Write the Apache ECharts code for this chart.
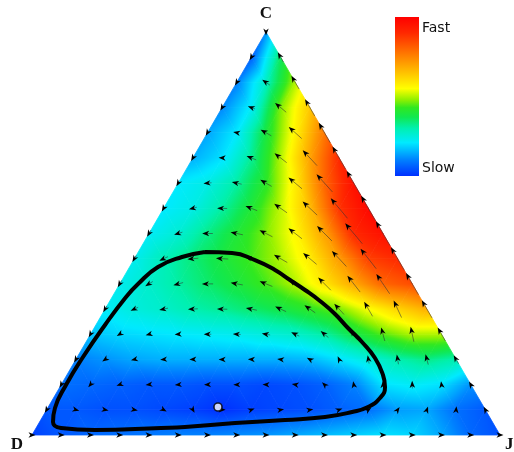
<!DOCTYPE html>
<html><head><meta charset="utf-8">
<script src="https://cdn.jsdelivr.net/npm/echarts@6/dist/echarts.min.js"></script>
<style>html,body{margin:0;padding:0;background:#fff}#chart{width:514px;height:452px}</style>
</head><body><div id="chart"></div>
<script>
// ---- data ----
const N = 16; // simplex grid subdivisions
const vertexLabels = ['C', 'D', 'J'];
const colorbarLabels = ['Fast', 'Slow'];
// speed (0 = slow, 1 = fast) at grid row k (c = k/N), point i (j = i/N)
const speedRow0  = [0.02, 0.05, 0.07, 0.08, 0.09, 0.1, 0.1, 0.11, 0.12, 0.14, 0.16, 0.18, 0.2, 0.19, 0.14, 0.07, 0.04];
const speedRow1  = [0.05, 0.05, 0.04, 0.04, 0.03, 0.02, 0.0, 0.02, 0.03, 0.04, 0.06, 0.08, 0.13, 0.14, 0.08, 0.05];
const speedRow2  = [0.08, 0.07, 0.06, 0.05, 0.05, 0.04, 0.04, 0.03, 0.04, 0.06, 0.1, 0.2, 0.22, 0.2, 0.12];
const speedRow3  = [0.1, 0.12, 0.14, 0.15, 0.15, 0.15, 0.15, 0.15, 0.16, 0.2, 0.25, 0.3, 0.33, 0.3];
const speedRow4  = [0.17, 0.19, 0.2, 0.21, 0.22, 0.23, 0.25, 0.27, 0.31, 0.38, 0.45, 0.5, 0.5];
const speedRow5  = [0.22, 0.25, 0.27, 0.3, 0.32, 0.35, 0.38, 0.42, 0.47, 0.55, 0.62, 0.68];
const speedRow6  = [0.23, 0.27, 0.31, 0.35, 0.39, 0.44, 0.5, 0.59, 0.69, 0.8, 0.84];
const speedRow7  = [0.23, 0.29, 0.34, 0.39, 0.44, 0.5, 0.58, 0.71, 0.86, 0.9];
const speedRow8  = [0.22, 0.26, 0.33, 0.4, 0.47, 0.56, 0.7, 0.9, 0.96];
const speedRow9  = [0.21, 0.24, 0.31, 0.4, 0.51, 0.66, 0.88, 0.98];
const speedRow10 = [0.21, 0.24, 0.31, 0.42, 0.58, 0.8, 0.96];
const speedRow11 = [0.15, 0.2, 0.32, 0.5, 0.7, 0.9];
const speedRow12 = [0.14, 0.21, 0.39, 0.57, 0.77];
const speedRow13 = [0.11, 0.22, 0.47, 0.64];
const speedRow14 = [0.1, 0.28, 0.5];
const speedRow15 = [0.06, 0.36];
const speedRow16 = [0.12];
const speedRows = [speedRow0, speedRow1, speedRow2, speedRow3, speedRow4, speedRow5, speedRow6, speedRow7,
  speedRow8, speedRow9, speedRow10, speedRow11, speedRow12, speedRow13, speedRow14, speedRow15, speedRow16];
// arrow direction (degrees, counter-clockwise from east) at the same grid points
const angleRow0  = [0, 0, 0, 0, 0, 0, 0, 0, 0, 0, 0, 0, 0, 0, 0, 0, 0];
const angleRow1  = [240, -15, -10, -10, -30, -60, 0, 20, 10, 10, 20, 35, 55, 70, 85, 120];
const angleRow2  = [240, 230, 200, 188, 185, 183, 180, 178, 170, 135, 100, 92, 92, 98, 120];
const angleRow3  = [240, 215, 195, 185, 182, 180, 178, 172, 150, 115, 100, 100, 105, 120];
const angleRow4  = [240, 212, 195, 185, 180, 177, 170, 155, 140, 120, 105, 102, 120];
const angleRow5  = [240, 205, 192, 183, 178, 168, 155, 145, 132, 120, 115, 120];
const angleRow6  = [240, 212, 195, 180, 170, 158, 145, 135, 128, 124, 120];
const angleRow7  = [240, 205, 185, 177, 165, 150, 140, 133, 128, 120];
const angleRow8  = [240, 198, 180, 168, 153, 142, 135, 130, 120];
const angleRow9  = [240, 195, 178, 158, 145, 137, 130, 120];
const angleRow10 = [240, 185, 168, 150, 140, 132, 120];
const angleRow11 = [240, 178, 158, 142, 133, 120];
const angleRow12 = [240, 170, 150, 138, 120];
const angleRow13 = [240, 160, 140, 120];
const angleRow14 = [240, 145, 120];
const angleRow15 = [240, 120];
const angleRow16 = [270];
const angleRows = [angleRow0, angleRow1, angleRow2, angleRow3, angleRow4, angleRow5, angleRow6, angleRow7,
  angleRow8, angleRow9, angleRow10, angleRow11, angleRow12, angleRow13, angleRow14, angleRow15, angleRow16];
// closed orbit (plot coordinates: x along D->J, y = share of C)
const orbitX = [0.3697, 0.4274, 0.4765, 0.5192, 0.5513, 0.5833, 0.6154, 0.6474, 0.6752, 0.7051, 0.7329, 0.75, 0.7543,
  0.7436, 0.7179, 0.6838, 0.6261, 0.5406, 0.4338, 0.3269, 0.2756, 0.1346, 0.062, 0.0449, 0.0491, 0.0726, 0.109,
  0.156, 0.2009, 0.2265, 0.2692, 0.3205, 0.3697];
const orbitY = [0.4541, 0.4516, 0.4342, 0.4094, 0.3846, 0.3598, 0.3325, 0.3002, 0.2655, 0.2308, 0.1911, 0.1489, 0.1191,
  0.0918, 0.0695, 0.0571, 0.0447, 0.0372, 0.0298, 0.0199, 0.0174, 0.0124, 0.0174, 0.0323, 0.067, 0.1241, 0.1935,
  0.273, 0.3424, 0.3747, 0.4169, 0.4417, 0.4541];
const fixedPointX = [0.3974];
const fixedPointY = [0.0695];

// ---- styling / helpers ----
const cmapStops = [[0, '#0030ff'], [0.1, '#0080ff'], [0.21, '#00eaff'], [0.3, '#00f0b0'], [0.37, '#10e850'],
  [0.43, '#30e820'], [0.48, '#90f000'], [0.55, '#ffff00'], [0.73, '#ff9000'], [0.9, '#ff2800'], [1, '#ff0000']];
const cm = cmapStops.map(s => [s[0], [parseInt(s[1].slice(1, 3), 16), parseInt(s[1].slice(3, 5), 16), parseInt(s[1].slice(5, 7), 16)]]);
function cmap(v) {
  v = Math.max(0, Math.min(1, v));
  for (let i = 1; i < cm.length; i++) {
    if (v <= cm[i][0]) {
      const a = cm[i - 1], b = cm[i];
      const t = (v - a[0]) / (b[0] - a[0]);
      const c = [0, 1, 2].map(q => Math.round(a[1][q] + (b[1][q] - a[1][q]) * t));
      return 'rgb(' + c.join(',') + ')';
    }
  }
  return 'rgb(255,0,0)';
}
// simplex grid point -> plot coordinates
function pt(k, i) { return [i / N + k / (2 * N), k / N]; }

const triData = [];
for (let k = 0; k < N; k++) {
  const m = N - k;
  for (let i = 0; i < m; i++) {
    const a = pt(k, i), b = pt(k, i + 1), c = pt(k + 1, i);
    triData.push([a[0], a[1], speedRows[k][i], b[0], b[1], speedRows[k][i + 1], c[0], c[1], speedRows[k + 1][i]]);
    if (i < m - 1) {
      const d = pt(k + 1, i + 1);
      triData.push([b[0], b[1], speedRows[k][i + 1], d[0], d[1], speedRows[k + 1][i + 1], c[0], c[1], speedRows[k + 1][i]]);
    }
  }
}
const arrowData = [];
for (let k = 0; k <= N; k++) {
  for (let i = 0; i <= N - k; i++) {
    const p = pt(k, i);
    arrowData.push([p[0], p[1], angleRows[k][i], speedRows[k][i]]);
  }
}

function renderTri(params, api) {
  const P = [], V = [];
  for (let t = 0; t < 3; t++) {
    P.push(api.coord([api.value(3 * t), api.value(3 * t + 1)]));
    V.push(api.value(3 * t + 2));
  }
  const e1x = P[1][0] - P[0][0], e1y = P[1][1] - P[0][1], e2x = P[2][0] - P[0][0], e2y = P[2][1] - P[0][1];
  const d1 = V[1] - V[0], d2 = V[2] - V[0];
  const det = e1x * e2y - e1y * e2x;
  const gx = (d1 * e2y - d2 * e1y) / det, gy = (e1x * d2 - e2x * d1) / det;
  const g2 = gx * gx + gy * gy;
  const vmin = Math.min(V[0], V[1], V[2]), vmax = Math.max(V[0], V[1], V[2]);
  let fill;
  if (vmax - vmin < 1e-4 || g2 < 1e-12) {
    fill = cmap(vmin);
  } else {
    const A = P[V.indexOf(vmin)];
    const s = (vmax - vmin) / g2;
    const B = [A[0] + gx * s, A[1] + gy * s];
    const stops = [];
    const n = 10;
    for (let q = 0; q <= n; q++) stops.push({ offset: q / n, color: cmap(vmin + (vmax - vmin) * q / n) });
    fill = { type: 'linear', x: A[0], y: A[1], x2: B[0], y2: B[1], colorStops: stops, global: true };
  }
  return { type: 'polygon', shape: { points: P }, style: { fill: fill, stroke: fill, lineWidth: 0.8 } };
}

function renderArrow(params, api) {
  const p = api.coord([api.value(0), api.value(1)]);
  const a = api.value(2) * Math.PI / 180, sp = api.value(3);
  const dx = Math.cos(a), dy = -Math.sin(a);
  const h = 7, w = 2.7;
  const L = h + Math.max(0, sp - 0.2) * 28;
  const tip = [p[0] + dx * L / 2, p[1] + dy * L / 2];
  const base = [tip[0] - dx * h, tip[1] - dy * h];
  const notch = [tip[0] - dx * h * 0.72, tip[1] - dy * h * 0.72];
  const nx = -dy, ny = dx;
  const children = [];
  if (L > h + 0.5) {
    children.push({ type: 'line', shape: { x1: p[0] - dx * L / 2, y1: p[1] - dy * L / 2, x2: notch[0], y2: notch[1] },
      style: { stroke: '#333', lineWidth: 0.8, opacity: 0.7 } });
  }
  children.push({ type: 'polygon', shape: { points: [tip, [base[0] + nx * w, base[1] + ny * w], notch, [base[0] - nx * w, base[1] - ny * w]] },
    style: { fill: '#000' } });
  return { type: 'group', children: children };
}

const chart = echarts.init(document.getElementById('chart'), null, { renderer: 'canvas' });
const labelFont = { fontFamily: 'Liberation Serif', fontWeight: 'bold', fontSize: 17, fill: '#111' };
chart.setOption({
  animation: false,
  backgroundColor: '#fff',
  grid: { left: 32, right: 14, top: 32, bottom: 17 },
  xAxis: { type: 'value', min: 0, max: 1, show: false },
  yAxis: { type: 'value', min: 0, max: 1, show: false },
  series: [
    { type: 'custom', renderItem: renderTri, data: triData, z: 1, silent: true },
    { type: 'custom', renderItem: renderArrow, data: arrowData, z: 2, silent: true },
    { type: 'line', data: orbitX.map((x, i) => [x, orbitY[i]]), smooth: 0.5, symbol: 'none', z: 3,
      lineStyle: { color: '#000', width: 4 } },
    { type: 'scatter', data: fixedPointX.map((x, i) => [x, fixedPointY[i]]), symbol: 'circle', symbolSize: 8, z: 4,
      itemStyle: { color: '#fff', borderColor: '#000', borderWidth: 1.6 } }
  ],
  graphic: [
    { type: 'rect', left: 395, top: 17, shape: { width: 24, height: 159 },
      style: { fill: { type: 'linear', x: 0, y: 0, x2: 0, y2: 1,
        colorStops: cmapStops.map(s => ({ offset: 1 - s[0], color: s[1] })).reverse() } } },
    { type: 'text', x: 422, y: 28, style: { text: colorbarLabels[0], fontFamily: 'DejaVu Sans', fontSize: 14, fill: '#111', verticalAlign: 'middle' } },
    { type: 'text', x: 422, y: 168, style: { text: colorbarLabels[1], fontFamily: 'DejaVu Sans', fontSize: 14, fill: '#111', verticalAlign: 'middle' } },
    { type: 'text', x: 266, y: 14, style: Object.assign({ text: vertexLabels[0], align: 'center', verticalAlign: 'middle' }, labelFont) },
    { type: 'text', x: 17, y: 445, style: Object.assign({ text: vertexLabels[1], align: 'center', verticalAlign: 'middle' }, labelFont) },
    { type: 'text', x: 505, y: 445, style: Object.assign({ text: vertexLabels[2], align: 'left', verticalAlign: 'middle' }, labelFont) }
  ]
});
</script></body></html>
